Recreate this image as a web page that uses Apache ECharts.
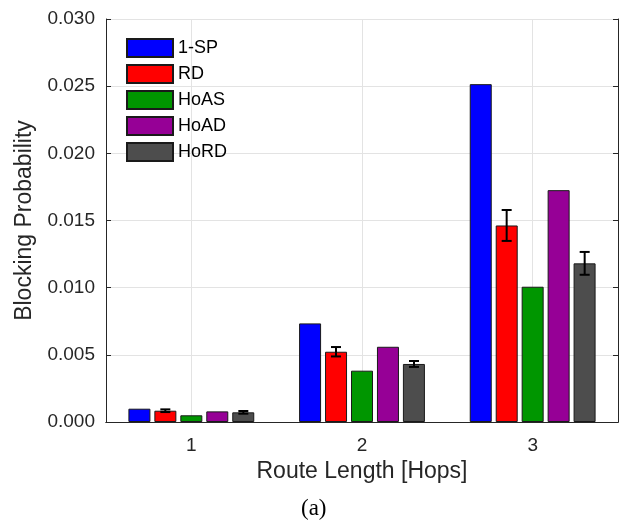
<!DOCTYPE html>
<html>
<head>
<meta charset="utf-8">
<script src="https://cdn.jsdelivr.net/npm/echarts@6/dist/echarts.min.js"></script>
<style>
  html, body { margin: 0; padding: 0; background: #fff; }
  #chart { width: 622px; height: 523px; }
</style>
</head>
<body>
<div id="chart"></div>
<script>
// route length categories
const categories = ['1', '2', '3']

// blocking probability per scheme
const sp1 = [0.00099, 0.00734, 0.02515]
const rd = [0.00084, 0.00523, 0.01463]
const hoas = [0.00050, 0.00382, 0.01007]
const hoad = [0.00079, 0.00560, 0.01726]
const hord = [0.00072, 0.00432, 0.01181]

// half-width of the error bars (RD and HoRD only)
const rdErr = [0.00010, 0.00035, 0.00115]
const hordErr = [0.00010, 0.00022, 0.00085]

const font = '"Liberation Sans", Arial, sans-serif'
const textColor = '#262626'
const gridColor = '#e3e3e3'
const barWidth = 22
const barStep = 26 // bar width + gap, px

const schemes = [
  { name: '1-SP', data: sp1, color: '#0000ff' },
  { name: 'RD', data: rd, color: '#ff0000' },
  { name: 'HoAS', data: hoas, color: '#009600' },
  { name: 'HoAD', data: hoad, color: '#960096' },
  { name: 'HoRD', data: hord, color: '#4d4d4d' }
]

const barSeries = schemes.map(s => ({
  name: s.name,
  type: 'bar',
  data: s.data,
  barWidth: barWidth,
  barGap: '18%',
  itemStyle: { color: s.color, borderColor: '#1a1a1a', borderWidth: 1 },
  emphasis: { disabled: true }
}))

const errorSeries = (values, errs, idx) => ({
  type: 'custom',
  data: values.map((v, i) => [i, v - errs[i], v + errs[i]]),
  z: 10,
  silent: true,
  renderItem: (params, api) => {
    const lo = api.coord([api.value(0), api.value(1)])
    const hi = api.coord([api.value(0), api.value(2)])
    const x = lo[0] + (idx - 2) * barStep
    const cap = 5
    const style = { stroke: '#000', lineWidth: 2 }
    return {
      type: 'group',
      children: [
        { type: 'line', shape: { x1: x, y1: lo[1], x2: x, y2: hi[1] }, style },
        { type: 'line', shape: { x1: x - cap, y1: lo[1], x2: x + cap, y2: lo[1] }, style },
        { type: 'line', shape: { x1: x - cap, y1: hi[1], x2: x + cap, y2: hi[1] }, style }
      ]
    }
  }
})

const chart = echarts.init(document.getElementById('chart'), null, { renderer: 'canvas' })

chart.setOption({
  animation: false,
  backgroundColor: '#fff',
  textStyle: { fontFamily: font },
  title: {
    text: '(a)',
    left: 301,
    top: 497,
    padding: 0,
    textStyle: { fontFamily: '"Liberation Serif", "Times New Roman", serif', fontSize: 23, fontWeight: 'normal', color: '#000' }
  },
  legend: {
    orient: 'vertical',
    left: 126,
    top: 38,
    itemWidth: 46,
    itemHeight: 18,
    itemGap: 6,
    padding: 0,
    icon: 'rect',
    data: schemes.map(s => s.name),
    textStyle: { fontFamily: font, fontSize: 18, color: '#000' }
  },
  grid: { left: 106, right: 4, top: 19, bottom: 101 },
  xAxis: [
    {
      type: 'category',
      data: categories,
      name: 'Route Length [Hops]',
      nameLocation: 'middle',
      nameGap: 33,
      nameTextStyle: { fontSize: 23, color: textColor },
      axisLine: { lineStyle: { color: textColor } },
      axisTick: { alignWithLabel: true, inside: true, length: 5, lineStyle: { color: textColor } },
      axisLabel: { fontSize: 19, color: textColor, margin: 14 },
      splitLine: { show: true, alignWithLabel: true, lineStyle: { color: gridColor } }
    },
    {
      type: 'category',
      data: categories,
      position: 'top',
      axisLine: { lineStyle: { color: textColor } },
      axisTick: { alignWithLabel: true, inside: true, length: 5, lineStyle: { color: textColor } },
      axisLabel: { show: false }
    }
  ],
  yAxis: [
    {
      type: 'value',
      min: 0,
      max: 0.03,
      interval: 0.005,
      name: 'Blocking Probability',
      nameLocation: 'middle',
      nameGap: 70,
      nameTextStyle: { fontSize: 23, color: textColor },
      axisLine: { show: true, lineStyle: { color: textColor } },
      axisTick: { show: true, inside: true, length: 5, lineStyle: { color: textColor } },
      axisLabel: { fontSize: 19, color: textColor, margin: 11, formatter: v => v.toFixed(3) },
      splitLine: { show: true, lineStyle: { color: gridColor } }
    },
    {
      type: 'value',
      min: 0,
      max: 0.03,
      interval: 0.005,
      position: 'right',
      axisLine: { show: true, lineStyle: { color: textColor } },
      axisTick: { show: true, inside: true, length: 5, lineStyle: { color: textColor } },
      axisLabel: { show: false },
      splitLine: { show: false }
    }
  ],
  series: [
    ...barSeries,
    errorSeries(rd, rdErr, 1),
    errorSeries(hord, hordErr, 4)
  ]
})

window.addEventListener('resize', () => chart.resize())
</script>
</body>
</html>
